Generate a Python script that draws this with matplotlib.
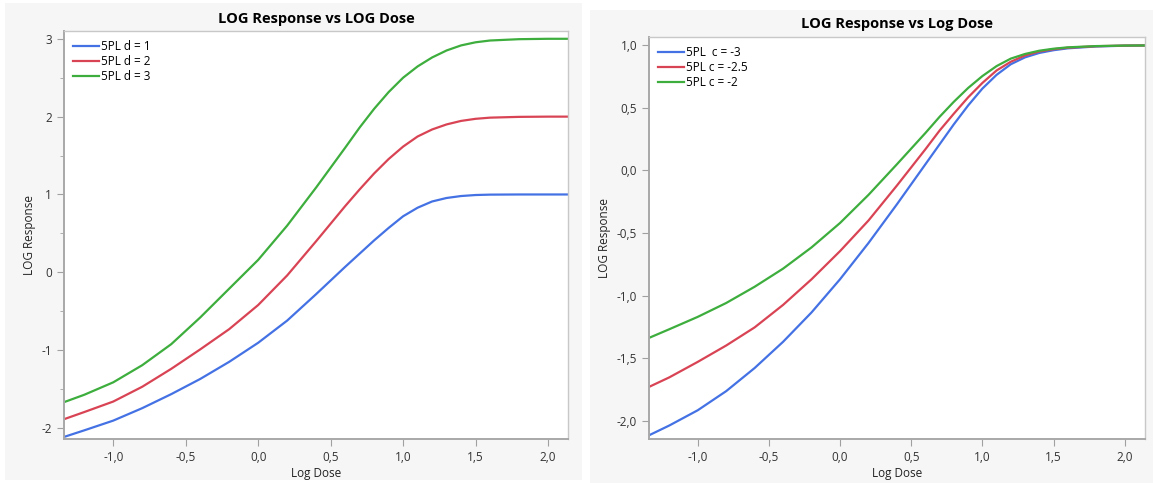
import matplotlib.pyplot as plt
from matplotlib.patches import Rectangle
from matplotlib.ticker import FuncFormatter, MultipleLocator

# valores (curvas 5PL, escala log)
x_esq = [-1.34, -1.2, -1.0, -0.8, -0.6, -0.4, -0.2, 0.0, 0.2, 0.4, 0.6, 0.7, 0.8, 0.9, 1.0,
         1.1, 1.2, 1.3, 1.4, 1.5, 1.6, 1.8, 2.0, 2.14]
d1 = [-2.115, -2.03, -1.905, -1.745, -1.565, -1.37, -1.15, -0.905, -0.62, -0.28, 0.07, 0.24, 0.41, 0.57, 0.72,
      0.83, 0.91, 0.955, 0.98, 0.993, 0.998, 1.0, 1.0, 1.0]
d2 = [-1.887, -1.795, -1.66, -1.47, -1.24, -0.99, -0.73, -0.42, -0.04, 0.40, 0.85, 1.065, 1.27, 1.455, 1.615,
      1.745, 1.835, 1.90, 1.945, 1.972, 1.987, 1.997, 2.0, 2.0]
d3 = [-1.668, -1.573, -1.413, -1.193, -0.923, -0.58, -0.21, 0.16, 0.60, 1.09, 1.60, 1.86, 2.10, 2.315, 2.50,
      2.645, 2.76, 2.85, 2.915, 2.955, 2.978, 2.995, 3.0, 3.0]
rotulos_esq = ['5PL d = 1', '5PL d = 2', '5PL d = 3']

x_dir = [-1.342, -1.2, -1.0, -0.8, -0.6, -0.4, -0.2, 0.0, 0.2, 0.4, 0.6, 0.7, 0.8, 0.9, 1.0,
         1.1, 1.2, 1.3, 1.4, 1.5, 1.6, 1.8, 2.0, 2.143]
c3 = [-2.118, -2.04, -1.918, -1.765, -1.58, -1.37, -1.135, -0.87, -0.58, -0.27, 0.05, 0.21, 0.37, 0.52, 0.655,
      0.765, 0.85, 0.905, 0.94, 0.962, 0.977, 0.992, 0.998, 1.0]
c25 = [-1.731, -1.655, -1.531, -1.40, -1.255, -1.075, -0.87, -0.645, -0.40, -0.12, 0.17, 0.32, 0.455, 0.585, 0.70,
       0.80, 0.87, 0.92, 0.952, 0.97, 0.982, 0.994, 0.999, 1.0]
c2 = [-1.339, -1.27, -1.171, -1.06, -0.93, -0.785, -0.615, -0.42, -0.195, 0.05, 0.30, 0.43, 0.55, 0.66, 0.755,
      0.835, 0.895, 0.932, 0.958, 0.974, 0.985, 0.995, 0.999, 1.0]
rotulos_dir = ['5PL  c = -3', '5PL c = -2.5', '5PL c = -2']

cores = ['#4472E4', '#D94455', '#3DAE3D']

plt.rcParams['font.family'] = ['Open Sans', 'DejaVu Sans']
plt.rcParams['font.size'] = 8.5

fig = plt.figure(figsize=(11.53, 4.83), dpi=100)
fig.patches.append(Rectangle((5/1153, 3/483), 577/1153, 477/483, transform=fig.transFigure,
                             facecolor='#f6f6f6', edgecolor='none', zorder=-10))
fig.patches.append(Rectangle((590/1153, 0), 563/1153, 473/483, transform=fig.transFigure,
                             facecolor='#f6f6f6', edgecolor='none', zorder=-10))

ax1 = fig.add_axes([0.0555, 0.0905, 0.4374, 0.8453])
ax2 = fig.add_axes([0.5629, 0.0905, 0.4302, 0.8335])

virgula1 = FuncFormatter(lambda v, p: ('%.1f' % v).replace('.', ','))
inteiro = FuncFormatter(lambda v, p: '%d' % round(v))

for ax, x, series, rotulos in [(ax1, x_esq, [d1, d2, d3], rotulos_esq),
                               (ax2, x_dir, [c3, c25, c2], rotulos_dir)]:
    for y, cor, rot in zip(series, cores, rotulos):
        ax.plot(x, y, color=cor, linewidth=1.6, label=rot, solid_joinstyle='round')
    ax.set_facecolor('white')
    for s in ax.spines.values():
        s.set_color('#c8c8c8')
        s.set_linewidth(1.0)
    ax.spines['left'].set_color('#a8a8a8')
    ax.spines['bottom'].set_color('#a8a8a8')
    ax.spines['left'].set_linewidth(1.4)
    ax.spines['bottom'].set_linewidth(1.4)
    ax.tick_params(direction='out', color='#a0a0a0', labelcolor='#333333', labelsize=8.5, length=5)
    ax.xaxis.set_major_locator(MultipleLocator(0.5))
    ax.xaxis.set_major_formatter(virgula1)
    ax.set_xlabel('Log Dose', fontsize=8.5, color='#222222', labelpad=2)
    ax.set_ylabel('LOG Response', fontsize=8.5, color='#222222')
    ax.legend(loc='upper left', frameon=False, fontsize=8.5, handlelength=2.2,
              handletextpad=0.1, labelspacing=0.15, borderaxespad=0.4)

ax1.set_xlim(-1.34, 2.14)
ax1.set_ylim(-2.145, 3.10)
ax1.yaxis.set_major_locator(MultipleLocator(1))
ax1.yaxis.set_minor_locator(MultipleLocator(0.5))
ax1.yaxis.set_major_formatter(inteiro)
ax1.tick_params(axis='y', which='minor', direction='out', color='#a0a0a0', length=3)
ax1.set_title('LOG Response vs LOG Dose', fontsize=10.5, fontweight='bold', pad=6)

ax2.set_xlim(-1.342, 2.143)
ax2.set_ylim(-2.15, 1.07)
ax2.yaxis.set_major_locator(MultipleLocator(0.5))
ax2.yaxis.set_major_formatter(virgula1)
ax2.set_title('LOG Response vs Log Dose', fontsize=10.5, fontweight='bold', pad=6)

plt.savefig('out.png', dpi=100)
